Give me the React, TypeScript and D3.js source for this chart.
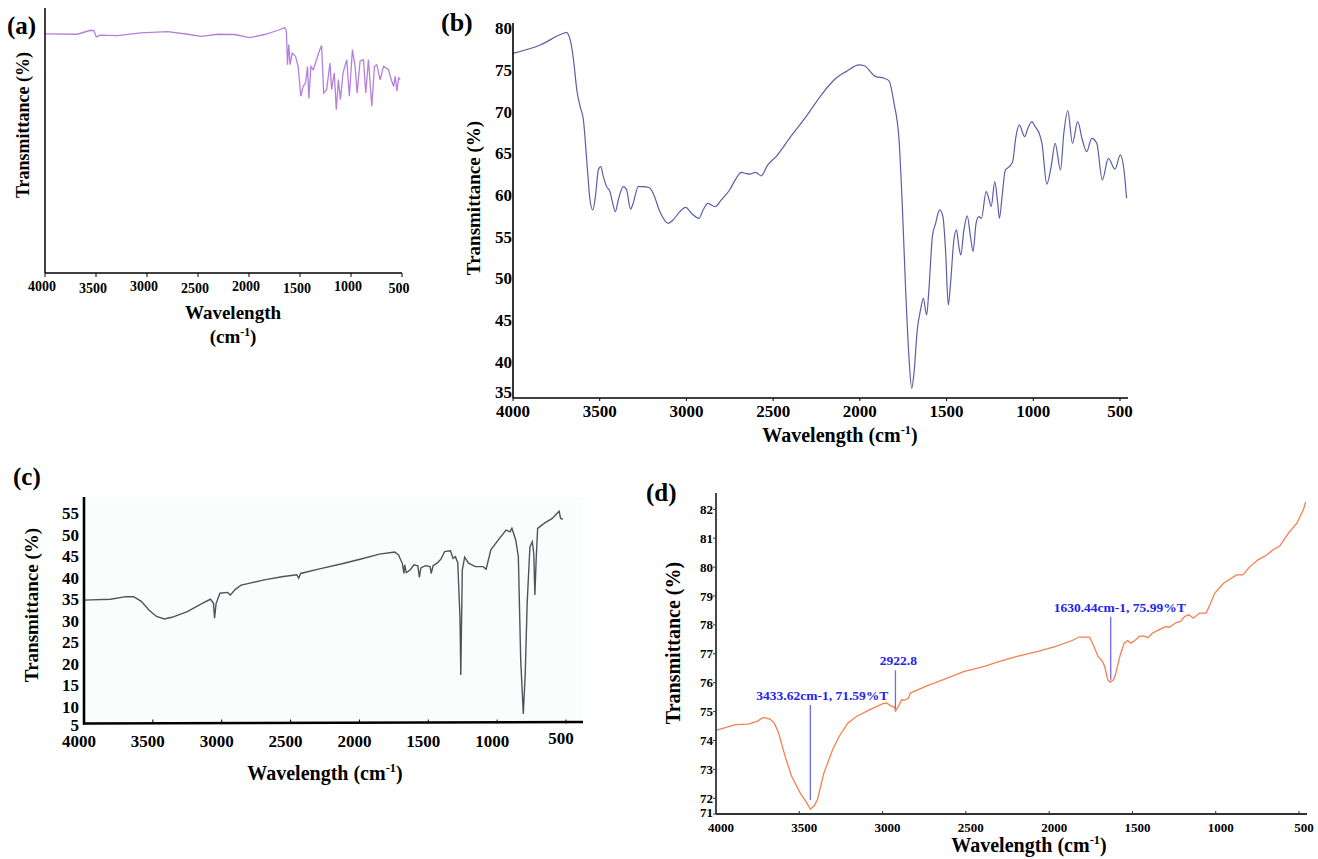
import React from "react";
import * as d3 from "d3";

const FONT = "'Liberation Serif', 'Times New Roman', serif";

// ---------- shared ----------
const X_TICKS = [4000, 3500, 3000, 2500, 2000, 1500, 1000, 500];

// ---------- panel (a) ----------
const A_WAVENUMBER = [4000, 3685, 3553, 3520, 3498, 3455, 3291, 3061, 2798, 2601, 2470, 2306, 2142, 1994, 1846, 1715, 1649, 1633, 1623, 1610, 1597, 1577, 1544, 1518, 1492, 1469, 1446, 1426, 1413, 1393, 1370, 1338, 1305, 1288, 1268, 1239, 1206, 1190, 1164, 1144, 1124, 1104, 1078, 1042, 1016, 986, 960, 940, 911, 878, 855, 829, 796, 770, 747, 714, 681, 632, 605, 582, 566, 550, 533, 517];
const A_TRANSMITTANCE = [90.2, 90.1, 91.6, 91.5, 89.1, 89.8, 89.6, 90.6, 91.1, 90.1, 89.3, 90.1, 90.0, 88.8, 90.0, 91.6, 92.6, 91.2, 78.6, 86.2, 78.6, 83.0, 81.8, 78.0, 66.7, 70.4, 71.7, 77.9, 65.9, 77.9, 76.7, 80.5, 84.3, 85.8, 67.9, 69.2, 79.2, 69.2, 75.5, 61.6, 73.0, 65.4, 75.5, 80.5, 66.7, 84.3, 78.0, 67.9, 79.9, 80.5, 67.9, 80.5, 62.9, 78.0, 78.6, 72.9, 78.0, 76.7, 72.9, 70.4, 74.2, 68.6, 73.6, 73.0];

// ---------- panel (b) ----------
const B_WAVENUMBER = [4000, 3843, 3709, 3693, 3670, 3651, 3632, 3613, 3594, 3575, 3556, 3540, 3525, 3508, 3494, 3479, 3460, 3441, 3425, 3410, 3393, 3364, 3345, 3322, 3307, 3278, 3249, 3215, 3192, 3153, 3105, 3077, 3038, 3004, 2971, 2927, 2904, 2876, 2835, 2799, 2751, 2713, 2684, 2659, 2636, 2601, 2569, 2531, 2483, 2406, 2310, 2215, 2138, 2080, 2004, 1975, 1908, 1860, 1832, 1803, 1774, 1755, 1736, 1717, 1701, 1688, 1669, 1650, 1634, 1615, 1602, 1582, 1563, 1540, 1521, 1506, 1490, 1477, 1458, 1443, 1429, 1418, 1400, 1381, 1362, 1347, 1330, 1314, 1299, 1272, 1257, 1243, 1222, 1205, 1195, 1180, 1161, 1138, 1119, 1100, 1081, 1050, 1031, 1008, 989, 966, 950, 922, 897, 874, 843, 824, 801, 774, 744, 717, 692, 663, 634, 602, 567, 529, 498, 477, 462];
const B_TRANSMITTANCE = [77.0, 78.0, 79.4, 79.5, 78.6, 76.2, 72.6, 70.6, 69.0, 64.2, 59.4, 58.2, 59.8, 63.0, 63.4, 62.2, 61.0, 60.4, 59.0, 58.0, 59.4, 61.0, 60.6, 58.3, 59.0, 61.0, 61.0, 60.9, 60.2, 58.0, 56.6, 57.0, 58.0, 58.5, 57.8, 57.2, 58.2, 59.0, 58.6, 59.4, 60.6, 62.0, 62.7, 62.6, 62.5, 62.7, 62.3, 63.6, 64.6, 66.8, 69.4, 72.2, 74.0, 74.8, 75.6, 75.5, 74.2, 74.0, 73.7, 71.0, 66.6, 58.6, 48.6, 40.6, 36.8, 38.6, 43.8, 46.2, 47.6, 45.6, 48.6, 55.0, 56.6, 58.2, 57.4, 53.4, 46.8, 49.4, 54.6, 55.8, 53.8, 52.8, 55.8, 57.5, 55.0, 53.2, 56.6, 57.4, 57.2, 60.4, 59.6, 58.6, 61.6, 59.0, 57.2, 59.8, 63.0, 63.4, 64.0, 67.0, 68.4, 67.0, 68.0, 68.8, 68.2, 67.4, 66.2, 61.3, 63.4, 66.2, 63.0, 67.4, 70.1, 66.2, 68.8, 66.6, 65.2, 66.8, 66.2, 61.8, 64.4, 63.1, 64.8, 63.0, 59.6];
const B_Y_TICKS = [35, 40, 45, 50, 55, 60, 65, 70, 75, 80];

// ---------- panel (c) ----------
const C_WAVENUMBER = [4000, 3808, 3696, 3640, 3584, 3529, 3473, 3417, 3361, 3250, 3138, 3082, 3060, 3052, 3041, 3013, 2957, 2937, 2901, 2859, 2803, 2692, 2552, 2455, 2441, 2427, 2274, 2134, 1995, 1855, 1744, 1716, 1688, 1677, 1671, 1660, 1632, 1604, 1576, 1565, 1554, 1521, 1487, 1479, 1465, 1437, 1409, 1381, 1339, 1320, 1303, 1286, 1270, 1264, 1253, 1236, 1208, 1158, 1102, 1080, 1046, 991, 935, 907, 893, 865, 846, 829, 810, 796, 782, 762, 745, 734, 726, 717, 706, 656, 600, 550, 539, 522];
const C_TRANSMITTANCE = [34.8, 35.0, 35.6, 35.6, 34.5, 32.5, 31.0, 30.4, 30.8, 32.1, 34.1, 35.0, 34.1, 30.6, 34.0, 36.4, 36.6, 36.0, 37.3, 38.3, 38.7, 39.5, 40.3, 40.7, 39.9, 41.0, 42.2, 43.2, 44.3, 45.5, 46.0, 45.3, 43.3, 41.0, 43.0, 41.2, 41.8, 43.0, 42.8, 40.1, 42.3, 42.8, 42.6, 41.0, 42.8, 43.4, 44.3, 46.1, 46.3, 44.5, 44.9, 43.5, 30.8, 17.4, 41.8, 44.8, 43.4, 42.6, 42.6, 42.0, 46.5, 48.8, 51.1, 50.7, 51.5, 48.8, 44.9, 20.9, 8.3, 17.6, 34.1, 47.2, 48.4, 45.7, 36.0, 43.9, 51.5, 52.7, 53.8, 55.5, 53.8, 53.6];
const C_Y_TICKS = [5, 10, 15, 20, 25, 30, 35, 40, 45, 50, 55];

// ---------- panel (d) ----------
const D_WAVENUMBER = [4000, 3883, 3806, 3754, 3715, 3676, 3650, 3624, 3585, 3546, 3494, 3455, 3433, 3409, 3391, 3352, 3300, 3261, 3209, 3157, 3079, 3002, 2976, 2950, 2929, 2922, 2903, 2885, 2867, 2846, 2833, 2742, 2639, 2509, 2405, 2379, 2302, 2198, 2068, 1964, 1861, 1822, 1757, 1731, 1705, 1679, 1666, 1648, 1633, 1614, 1601, 1576, 1550, 1529, 1511, 1485, 1459, 1433, 1407, 1381, 1342, 1303, 1277, 1238, 1213, 1187, 1161, 1135, 1096, 1057, 1031, 1005, 953, 875, 837, 798, 746, 694, 655, 616, 564, 513, 474, 460];
const D_TRANSMITTANCE = [74.35, 74.55, 74.57, 74.66, 74.8, 74.74, 74.6, 74.26, 73.45, 72.76, 72.18, 71.84, 71.62, 71.75, 71.96, 72.88, 73.68, 74.14, 74.6, 74.83, 75.06, 75.27, 75.3, 75.2, 75.15, 75.02, 75.2, 75.41, 75.4, 75.45, 75.64, 75.87, 76.1, 76.39, 76.54, 76.58, 76.73, 76.9, 77.08, 77.25, 77.46, 77.58, 77.58, 77.25, 76.9, 76.73, 76.55, 76.1, 76.02, 76.1, 76.3, 76.9, 77.37, 77.46, 77.37, 77.46, 77.6, 77.62, 77.56, 77.71, 77.83, 77.94, 77.92, 78.08, 78.11, 78.29, 78.35, 78.23, 78.41, 78.41, 78.75, 79.1, 79.44, 79.73, 79.73, 80.0, 80.25, 80.42, 80.6, 80.73, 81.17, 81.52, 81.98, 82.26];
const D_Y_TICKS = [71, 72, 73, 74, 75, 76, 77, 78, 79, 80, 81, 82];
const D_PEAK_WAVENUMBER = [3433.62, 2922.8, 1630.44];
const D_PEAK_LABEL = ["3433.62cm-1, 71.59%T", "2922.8", "1630.44cm-1, 75.99%T"];
const D_PEAK_LINE_TOP = [75.23, 76.43, 78.28];
const D_PEAK_LINE_BOTTOM = [71.94, 75.1, 76.1];

const zip = (xs: number[], ys: number[]) => xs.map((x, i) => [x, ys[i]] as [number, number]);

function Superscript({ base, x, y, size, anchor = "middle" }: any) {
  return (
    <text x={x} y={y} fontFamily={FONT} fontWeight="bold" fontSize={size} textAnchor={anchor} fill="#000">
      <tspan>{base}(cm</tspan>
      <tspan dy={-size * 0.38} fontSize={size * 0.62}>-1</tspan>
      <tspan dy={size * 0.38}>)</tspan>
    </text>
  );
}

function PanelA() {
  const x = d3.scaleLinear().domain([4000, 500]).range([45, 402]);
  const y = d3.scaleLinear().domain([0, 100]).range([273, 8]);
  const line = d3.line<[number, number]>().x((d) => x(d[0])).y((d) => y(d[1]));
  return (
    <g>
      <text x={7} y={34} fontFamily={FONT} fontWeight="bold" fontSize={25}>(a)</text>
      <path d={line(zip(A_WAVENUMBER, A_TRANSMITTANCE)) || ""} fill="none" stroke="#b580dc" strokeWidth={1.3} />
      <line x1={45} x2={45} y1={8} y2={273} stroke="#000" strokeWidth={1.5} />
      <line x1={45} x2={402} y1={273} y2={273} stroke="#000" strokeWidth={1.5} />
      {X_TICKS.map((t, i) => (
        <g key={t}>
          <line x1={x(t)} x2={x(t)} y1={273} y2={277} stroke="#000" strokeWidth={1} />
          <text x={x(t) - 3} y={i % 2 === 1 ? 293 : 291} textAnchor="middle" fontFamily={FONT} fontWeight="bold" fontSize={14}>{t}</text>
        </g>
      ))}
      <text x={233} y={319} textAnchor="middle" fontFamily={FONT} fontWeight="bold" fontSize={19}>Wavelength</text>
      <Superscript base="" x={233} y={343} size={19} />
      <text transform="translate(29,125) rotate(-90)" textAnchor="middle" fontFamily={FONT} fontWeight="bold" fontSize={18}>Transmittance (%)</text>
    </g>
  );
}

function PanelB() {
  const x = d3.scaleLinear().domain([4000, 500]).range([513, 1120]);
  const y = d3.scaleLinear().domain([80, 35]).range([28.3, 403.3]);
  const line = d3.line<[number, number]>().x((d) => x(d[0])).y((d) => y(d[1])).curve(d3.curveMonotoneX);
  const bottom = 398;
  return (
    <g>
      <text x={441} y={31} fontFamily={FONT} fontWeight="bold" fontSize={26}>(b)</text>
      <path d={line(zip(B_WAVENUMBER, B_TRANSMITTANCE)) || ""} fill="none" stroke="#5a5ea8" strokeWidth={1.2} />
      <line x1={513} x2={513} y1={23} y2={bottom} stroke="#000" strokeWidth={1.6} />
      <line x1={513} x2={1128} y1={bottom} y2={bottom} stroke="#000" strokeWidth={1.6} />
      {B_Y_TICKS.map((t) => (
        <text key={t} x={512} y={Math.min(y(t), bottom - 6) + 6} textAnchor="end" fontFamily={FONT} fontWeight="bold" fontSize={17}>{t}</text>
      ))}
      {X_TICKS.map((t) => (
        <g key={t}>
          <line x1={x(t)} x2={x(t)} y1={bottom} y2={bottom + 3} stroke="#000" strokeWidth={1} />
          <text x={x(t)} y={417} textAnchor="middle" fontFamily={FONT} fontWeight="bold" fontSize={17}>{t}</text>
        </g>
      ))}
      <Superscript base="Wavelength " x={840} y={442} size={20} />
      <text transform="translate(480,198) rotate(-90)" textAnchor="middle" fontFamily={FONT} fontWeight="bold" fontSize={19}>Transmittance  (%)</text>
    </g>
  );
}

function PanelC() {
  const x = d3.scaleLinear().domain([4000, 500]).range([84, 566]);
  const y = d3.scaleLinear().domain([55, 10]).range([513.3, 706.7]);
  const line = d3.line<[number, number]>().x((d) => x(d[0])).y((d) => y(d[1]));
  const bottom = 723.5;
  return (
    <g>
      <text x={13} y={485} fontFamily={FONT} fontWeight="bold" fontSize={25}>(c)</text>
      <rect x={84} y={497} width={499} height={226} fill="#fbfcfc" />
      <path d={line(zip(C_WAVENUMBER, C_TRANSMITTANCE)) || ""} fill="none" stroke="#505458" strokeWidth={1.4} />
      <line x1={84} x2={84} y1={497} y2={bottom + 1} stroke="#000" strokeWidth={2.6} />
      <line x1={83} x2={583} y1={bottom} y2={bottom - 1.5} stroke="#000" strokeWidth={2.6} />
      {C_Y_TICKS.map((t) => (
        <text key={t} x={79} y={Math.min(y(t), bottom + 1) + 6} textAnchor="end" fontFamily={FONT} fontWeight="bold" fontSize={17}>{t}</text>
      ))}
      {X_TICKS.map((t) => (
        <g key={t}>
          <line x1={x(t)} x2={x(t)} y1={bottom - 4} y2={bottom} stroke="#000" strokeWidth={1} />
          <text x={x(t) - 5} y={t === 500 ? 744 : 747} textAnchor="middle" fontFamily={FONT} fontWeight="bold" fontSize={17}>{t}</text>
        </g>
      ))}
      <Superscript base="Wavelength " x={325} y={780} size={20} />
      <text transform="translate(38,605) rotate(-90)" textAnchor="middle" fontFamily={FONT} fontWeight="bold" fontSize={19}>Transmittance  (%)</text>
    </g>
  );
}

function PanelD() {
  const x = d3.scaleLinear().domain([4000, 500]).range([716, 1299]);
  const y = d3.scaleLinear().domain([82, 72]).range([509.3, 798.3]);
  const line = d3.line<[number, number]>().x((d) => x(d[0])).y((d) => y(d[1]));
  const bottom = 814;
  const labelDx = [12, 3, 9];
  return (
    <g>
      <text x={646} y={501} fontFamily={FONT} fontWeight="bold" fontSize={25}>(d)</text>
      <path d={line(zip(D_WAVENUMBER, D_TRANSMITTANCE)) || ""} fill="none" stroke="#f5804f" strokeWidth={1.3} />
      {D_PEAK_WAVENUMBER.map((w, i) => (
        <g key={w}>
          <line x1={x(w)} x2={x(w)} y1={y(D_PEAK_LINE_TOP[i])} y2={y(D_PEAK_LINE_BOTTOM[i])} stroke="#6b6bff" strokeWidth={1.3} />
          <text x={x(w) + labelDx[i]} y={y(D_PEAK_LINE_TOP[i]) - 5} textAnchor="middle" fontFamily={FONT} fontWeight="bold" fontSize={13.5} fill="#2424ee">{D_PEAK_LABEL[i]}</text>
        </g>
      ))}
      <line x1={716} x2={716} y1={493} y2={bottom} stroke="#333" strokeWidth={1.8} />
      <line x1={716} x2={1307} y1={bottom} y2={bottom} stroke="#333" strokeWidth={1.8} />
      {D_Y_TICKS.map((t) => (
        <g key={t}>
          <line x1={713} x2={716} y1={Math.min(y(t), bottom)} y2={Math.min(y(t), bottom)} stroke="#333" strokeWidth={1} />
          <text x={713} y={Math.min(y(t), bottom - 2) + 4.5} textAnchor="end" fontFamily={FONT} fontWeight="bold" fontSize={13}>{t}</text>
        </g>
      ))}
      {X_TICKS.map((t) => (
        <g key={t}>
          <line x1={x(t)} x2={x(t)} y1={bottom - 3} y2={bottom} stroke="#333" strokeWidth={1} />
          <text x={x(t) + 5} y={832} textAnchor="middle" fontFamily={FONT} fontWeight="bold" fontSize={13}>{t}</text>
        </g>
      ))}
      <Superscript base="Wavelength " x={1029} y={852} size={20} />
      <text transform="translate(680,643) rotate(-90)" textAnchor="middle" fontFamily={FONT} fontWeight="bold" fontSize={20}>Transmittance  (%)</text>
    </g>
  );
}

export default function App() {
  return (
    <svg
      width={1318}
      height={859}
      viewBox="0 0 1318 859"
      style={{ position: "absolute", left: 0, top: 0, background: "#fff" }}
    >
      <rect x={0} y={0} width={1318} height={859} fill="#fff" />
      <PanelA />
      <PanelB />
      <PanelC />
      <PanelD />
    </svg>
  );
}
